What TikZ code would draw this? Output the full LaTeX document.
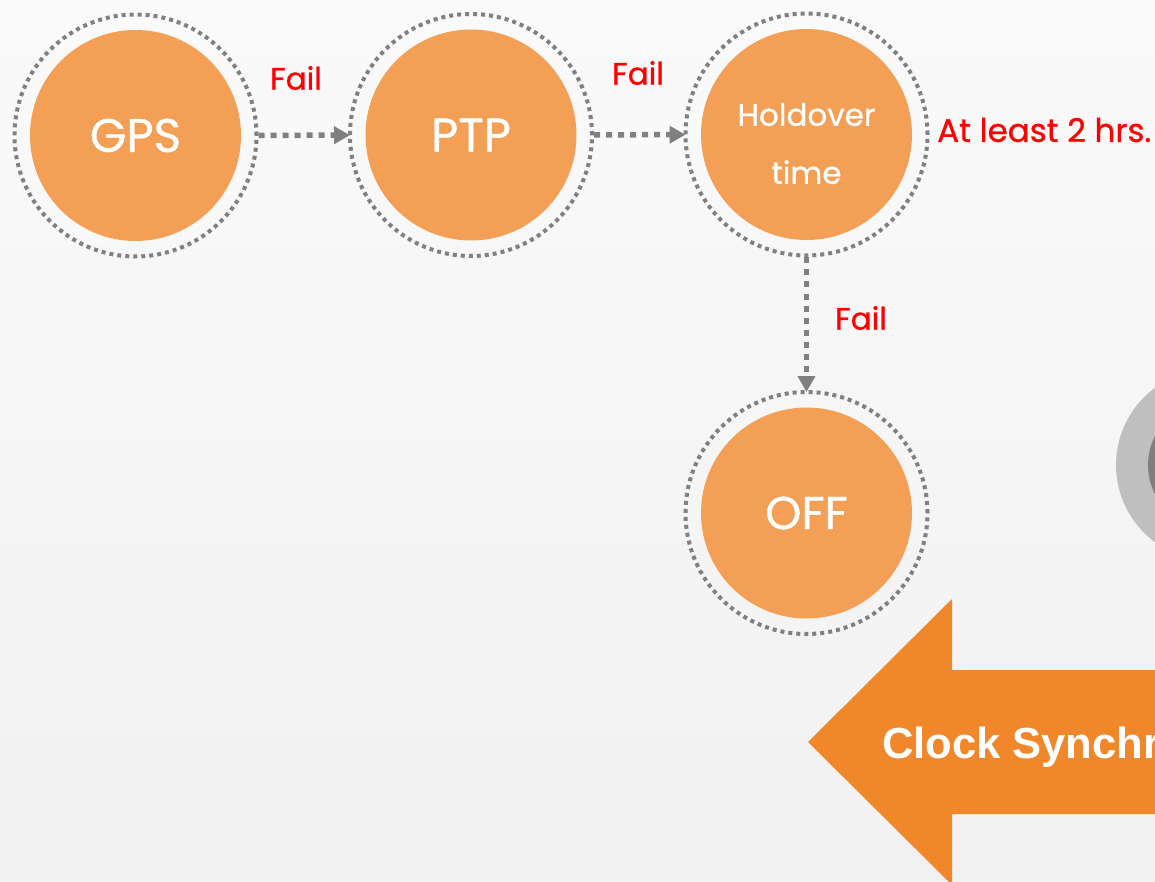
\documentclass[tikz,border=0pt]{standalone}
\usepackage{fontspec}
\setmainfont{Poppins}[FakeBold=0.8]
\newfontfamily\arialbold{Liberation Sans}[BoldFont={* Bold}]
\usetikzlibrary{arrows.meta,shadings}
\definecolor{bgtop}{HTML}{FAFAFA}
\definecolor{bgbot}{HTML}{F1F1F1}
\definecolor{circfill}{HTML}{F39F55}
\definecolor{arrowfill}{HTML}{F0882B}
\definecolor{ringgray}{HTML}{808080}
\definecolor{lightdisc}{HTML}{BFBFBF}
\definecolor{darkdisc}{HTML}{7F7F7F}
\definecolor{failred}{HTML}{FF0000}
\tikzset{
  statering/.style={circle, minimum size=242pt, inner sep=0pt, draw=ringgray,
    line width=4pt, dash pattern=on 4pt off 4pt,
    path picture={\fill[circfill] (path picture bounding box.center) circle (105.5pt);},
    text=white},
  flowarrow/.style={draw=ringgray, line width=5.5pt, dash pattern=on 6pt off 6pt,
    -{Triangle[width=17pt,length=16pt,fill=ringgray]}, shorten >=-2pt},
  faillabel/.style={text=failred, font=\fontsize{31}{36}\selectfont, inner sep=0pt}
}
\begin{document}
\begin{tikzpicture}[x=1pt,y=-1pt]
  \useasboundingbox (0,0) rectangle (1155,882);
  \clip (0,0) rectangle (1155,882);
  \shade[top color=bgtop, bottom color=bgbot] (0,0) rectangle (1155,882);

  % grey discs at right edge
  \fill[lightdisc] (1212,465) circle (96);
  \fill[darkdisc] (1212,465) circle (64);

  % big arrow
  \fill[arrowfill] (808,742) -- (952,599) -- (952,670) -- (1400,670)
     -- (1400,814) -- (952,814) -- (952,885) -- cycle;
  \node[anchor=base west, inner sep=0pt, text=white,
        font=\arialbold\bfseries\fontsize{43.5}{50}\selectfont] (clock) at (882,758)
        {Clock Synchronization};

  % states
  \node[statering, font=\fontsize{47}{52}\selectfont] (gps) at (135.5,135.5) {GPS};
  \node[statering, font=\fontsize{47}{52}\selectfont] (ptp) at (471,135) {PTP};
  \node[statering, label={[align=center, text=white, yshift=-9pt,
        font=\fontsize{31}{58}\selectfont]center:Holdover\\time}] (hold) at (806.5,134.5) {};
  \node[statering, font=\fontsize{46}{52}\selectfont] (off) at (806.5,513) {OFF};

  % connectors
  \draw[flowarrow] (gps) -- (ptp);
  \draw[flowarrow] (ptp) -- (hold);
  \draw[flowarrow] (hold) -- (off);

  % labels
  \node[faillabel] (f1) at (296,78) {Fail};
  \node[faillabel] (f2) at (638,73) {Fail};
  \node[faillabel] (f3) at (861,318) {Fail};
  \node[faillabel, anchor=west, font=\fontsize{32.5}{36}\selectfont] (hrs) at (937,130) {At least 2 hrs.};
\end{tikzpicture}
\end{document}
